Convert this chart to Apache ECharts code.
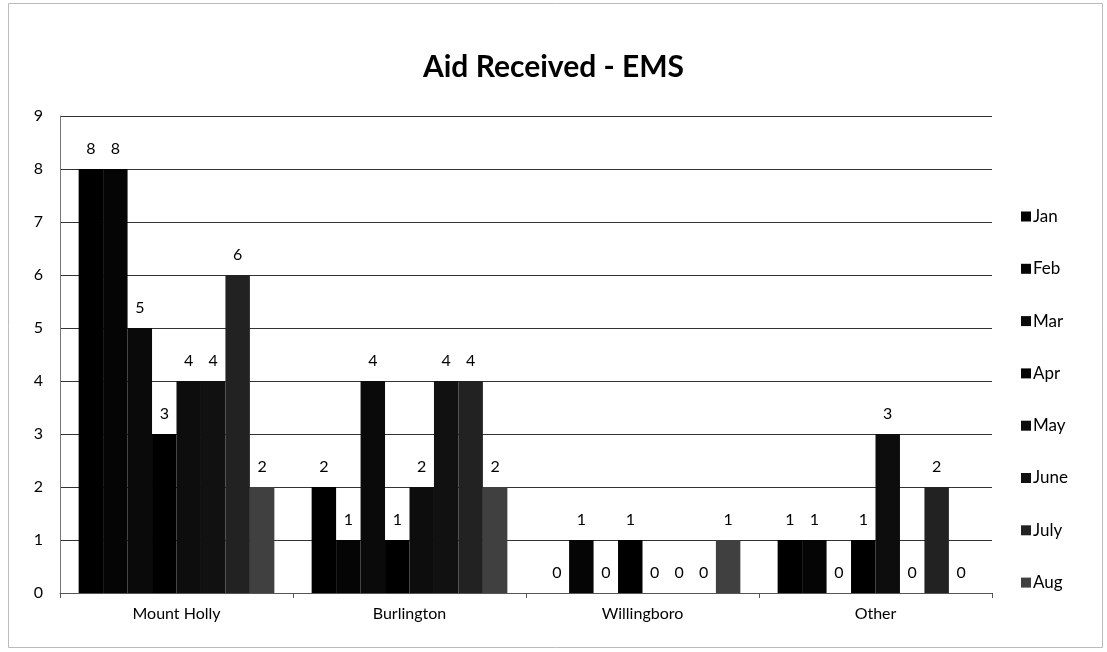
<!DOCTYPE html>
<html>
<head>
<meta charset="utf-8">
<script src="https://cdn.jsdelivr.net/npm/echarts@6/dist/echarts.min.js"></script>
<style>
  html, body { margin: 0; padding: 0; background: #fff; }
  #main { width: 1107px; height: 652px; }
</style>
</head>
<body>
<div id="main"></div>
<script>
var towns = ['Mount Holly', 'Burlington', 'Willingboro', 'Other'];
var months = ['Jan', 'Feb', 'Mar', 'Apr', 'May', 'June', 'July', 'Aug'];

// one array per month, in town order
var jan = [8, 2, 0, 1];
var feb = [8, 1, 1, 1];
var mar = [5, 4, 0, 0];
var apr = [3, 1, 1, 1];
var may = [4, 2, 0, 3];
var june = [4, 4, 0, 0];
var july = [6, 4, 0, 2];
var aug = [2, 2, 1, 0];

var monthValues = [jan, feb, mar, apr, may, june, july, aug];
var monthColors = ['#000000', '#050505', '#0a0a0a', '#000000', '#0d0d0d', '#111111', '#222222', '#404040'];

var font = 'Lato';

var myChart = echarts.init(document.getElementById('main'));

var option = {
    backgroundColor: '#ffffff',
    animation: false,
    title: {
        text: 'Aid Received - EMS',
        left: 'center',
        top: 47,
        textStyle: {
            fontFamily: font,
            fontWeight: 'bold',
            fontSize: 30,
            color: '#000'
        }
    },
    legend: {
        orient: 'vertical',
        left: 1016,
        top: 203,
        itemGap: 35.3,
        itemWidth: 10,
        itemHeight: 10,
        icon: 'rect',
        textStyle: {
            fontFamily: font,
            fontSize: 17,
            lineHeight: 17,
            color: '#000',
            padding: [0, 0, 0, -3]
        },
        data: months
    },
    grid: {
        left: 60,
        right: 115,
        top: 116,
        bottom: 59,
        containLabel: false
    },
    xAxis: {
        type: 'category',
        data: towns,
        axisLine: { lineStyle: { color: '#555', width: 1 } },
        axisTick: { show: true, length: 5, lineStyle: { color: '#555' } },
        axisLabel: {
            fontFamily: font,
            fontSize: 16,
            color: '#000',
            margin: 13
        }
    },
    yAxis: {
        type: 'value',
        min: 0,
        max: 9,
        interval: 1,
        axisLine: { show: true, lineStyle: { color: '#777', width: 1 } },
        axisTick: { show: false },
        axisLabel: {
            fontFamily: font,
            fontSize: 16,
            color: '#000',
            margin: 17
        },
        splitLine: { lineStyle: { color: '#333', width: 1 } }
    },
    graphic: [{
        type: 'rect',
        shape: { x: 8.5, y: 3.5, width: 1094, height: 644 },
        style: { fill: 'none', stroke: '#bbb', lineWidth: 1 },
        silent: true
    }],
    series: months.map(function (m, i) {
        return {
            name: m,
            type: 'bar',
            data: monthValues[i],
            barGap: '0%',
            barCategoryGap: '16%',
            itemStyle: { color: monthColors[i] },
            label: {
                show: true,
                position: 'top',
                distance: 12,
                fontFamily: font,
                fontSize: 16,
                color: '#000'
            }
        };
    })
};

option && myChart.setOption(option);
</script>
</body>
</html>
